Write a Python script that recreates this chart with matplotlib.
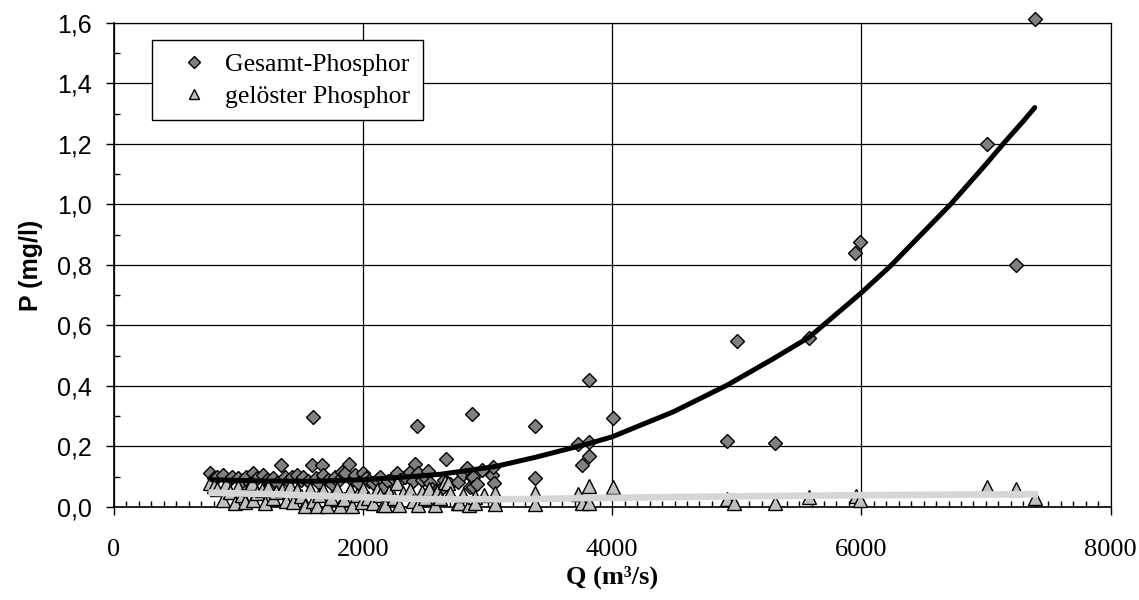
import matplotlib
matplotlib.use("Agg")
import matplotlib.pyplot as plt
from matplotlib.ticker import MultipleLocator, FuncFormatter

# Gesamt-Phosphor (Q in m3/s, P in mg/l)
tp_q = [770, 800, 830, 878, 920, 950, 998, 1030, 1060, 1090, 1119, 1150, 1199, 1230,
        1250, 1280, 1310, 1341, 1370, 1400, 1430, 1467, 1500, 1521, 1560, 1588, 1601,
        1620, 1650, 1673, 1681, 1720, 1750, 1775, 1800, 1829, 1855, 1890, 1910, 1936,
        1960, 1997, 2020, 2050, 2083, 2110, 2140, 2163, 2200, 2240, 2271, 2300, 2340,
        2377, 2400, 2418, 2436, 2445, 2470, 2500, 2519, 2538, 2551, 2592, 2618, 2650,
        2667, 2700, 2763, 2800, 2835, 2859, 2873, 2876, 2883, 2886, 2916, 2956, 3036,
        3044, 3052, 3381, 3381, 3727, 3759, 3815, 3815, 3815, 4008, 4924, 5000, 5309,
        5581, 5951, 5986, 7005, 7241, 7392]
tp_p = [0.111, 0.095, 0.100, 0.106, 0.090, 0.100, 0.095, 0.085, 0.100, 0.080, 0.111,
        0.095, 0.106, 0.090, 0.070, 0.095, 0.080, 0.139, 0.100, 0.085, 0.100, 0.106,
        0.090, 0.100, 0.085, 0.139, 0.296, 0.095, 0.080, 0.139, 0.106, 0.090, 0.075,
        0.100, 0.085, 0.117, 0.111, 0.142, 0.090, 0.106, 0.080, 0.111, 0.095, 0.085,
        0.078, 0.090, 0.100, 0.067, 0.085, 0.095, 0.111, 0.090, 0.100, 0.117, 0.085,
        0.142, 0.268, 0.111, 0.090, 0.100, 0.120, 0.078, 0.058, 0.056, 0.056, 0.090,
        0.159, 0.075, 0.083, 0.110, 0.129, 0.066, 0.100, 0.307, 0.099, 0.067, 0.076,
        0.122, 0.106, 0.132, 0.079, 0.268, 0.096, 0.208, 0.139, 0.420, 0.215, 0.169,
        0.294, 0.218, 0.550, 0.212, 0.558, 0.838, 0.877, 1.198, 0.800, 1.612]

# gelöster Phosphor
dp_q = [771, 800, 830, 878, 900, 930, 972, 1000, 1030, 1052, 1080, 1106, 1117, 1150,
        1186, 1213, 1240, 1277, 1300, 1347, 1380, 1410, 1440, 1467, 1500, 1534, 1575,
        1600, 1628, 1650, 1681, 1708, 1740, 1788, 1815, 1850, 1895, 1909, 1950, 1989,
        2003, 2040, 2083, 2110, 2140, 2163, 2177, 2210, 2250, 2271, 2286, 2320, 2377,
        2400, 2445, 2471, 2500, 2530, 2580, 2592, 2620, 2659, 2680, 2700, 2766, 2769,
        2800, 2850, 2898, 2900, 2971, 3060, 3060, 3381, 3381, 3727, 3759, 3815, 3815,
        4008, 4924, 4980, 5309, 5581, 5959, 5986, 7005, 7241, 7392]
dp_p = [0.078, 0.070, 0.060, 0.023, 0.075, 0.050, 0.012, 0.065, 0.040, 0.018, 0.060,
        0.078, 0.023, 0.045, 0.056, 0.012, 0.065, 0.029, 0.050, 0.056, 0.020, 0.070,
        0.018, 0.056, 0.035, 0.003, 0.058, 0.020, 0.003, 0.040, 0.056, 0.002, 0.030,
        0.058, 0.004, 0.025, 0.056, 0.002, 0.040, 0.018, 0.058, 0.030, 0.012, 0.056,
        0.040, 0.007, 0.007, 0.050, 0.030, 0.078, 0.007, 0.045, 0.056, 0.020, 0.007,
        0.051, 0.030, 0.060, 0.007, 0.051, 0.030, 0.084, 0.079, 0.045, 0.012, 0.013,
        0.040, 0.007, 0.033, 0.012, 0.040, 0.046, 0.010, 0.046, 0.010, 0.043, 0.013,
        0.069, 0.013, 0.066, 0.026, 0.013, 0.013, 0.033, 0.035, 0.024, 0.065, 0.061,
        0.030]

# Trendlinien
trend_tp_q = [785, 1200, 1600, 2000, 2300, 2618, 3052, 3381, 3815, 4000, 4493, 4924,
              5293, 5581, 6000, 6230, 6716, 7005, 7149, 7300, 7392]
trend_tp_p = [0.090, 0.086, 0.085, 0.090, 0.098, 0.108, 0.133, 0.164, 0.210, 0.232,
              0.315, 0.403, 0.490, 0.561, 0.708, 0.795, 1.000, 1.135, 1.205, 1.275, 1.320]
trend_dp_q = [785, 1300, 1800, 2300, 2700, 3300, 3900, 4500, 5200, 6000, 6800, 7392]
trend_dp_p = [0.047, 0.042, 0.035, 0.028, 0.025, 0.026, 0.030, 0.033, 0.036, 0.039,
              0.041, 0.042]

fig = plt.figure(figsize=(11.39, 6.0), dpi=100)
ax = fig.add_axes([0.100, 0.155, 0.875, 0.807])

ax.grid(True, which="major", color="black", linewidth=0.9)
ax.set_axisbelow(True)

ax.plot(tp_q, tp_p, "D", ms=7.5, mfc="#808080", mec="black", mew=1.0,
        label="Gesamt-Phosphor", zorder=3, clip_on=False)
ax.plot(dp_q, dp_p, "^", ms=9.5, mfc="#c0c0c0", mec="black", mew=1.0,
        label="gelöster Phosphor", zorder=3, clip_on=False)
ax.plot(trend_tp_q, trend_tp_p, color="black", lw=3.6, solid_capstyle="round",
        solid_joinstyle="round", zorder=4)
ax.plot(trend_dp_q, trend_dp_p, color="#d6d6d6", lw=4.8, zorder=4)

ax.set_xlim(0, 8000)
ax.set_ylim(0, 1.6)
ax.xaxis.set_major_locator(MultipleLocator(2000))
ax.xaxis.set_minor_locator(MultipleLocator(100))
ax.yaxis.set_major_locator(MultipleLocator(0.2))
ax.yaxis.set_minor_locator(MultipleLocator(0.1))
ax.yaxis.set_major_formatter(FuncFormatter(lambda v, p: f"{v:.1f}".replace(".", ",")))

ax.tick_params(axis="both", which="major", direction="out", length=6, width=1)
ax.tick_params(axis="both", which="minor", direction="in", length=4.5, width=1)
ax.tick_params(axis="y", which="major", pad=10)
ax.tick_params(axis="x", which="major", pad=17)

for lab in ax.get_yticklabels():
    lab.set_fontfamily("Liberation Sans")
    lab.set_fontsize(18)
for lab in ax.get_xticklabels():
    lab.set_fontfamily("Liberation Serif")
    lab.set_fontsize(19)

for s in ["top", "right"]:
    ax.spines[s].set_linewidth(0.9)
for s in ["left", "bottom"]:
    ax.spines[s].set_linewidth(1.2)

ax.set_ylabel("P (mg/l)", fontfamily="Liberation Sans", fontweight="bold",
              fontsize=18, labelpad=10)
ax.set_xlabel("Q (m³/s)", fontfamily="Liberation Serif", fontweight="bold",
              fontsize=19, labelpad=3)

leg = ax.legend(loc="upper left", bbox_to_anchor=(0.038, 0.965), borderaxespad=0,
                frameon=True, fancybox=False, shadow=False, handletextpad=0.05,
                handlelength=2.3, borderpad=0.5, labelspacing=0.35,
                prop={"family": "Liberation Serif", "size": 18.5})
leg.get_frame().set_edgecolor("black")
leg.get_frame().set_linewidth(1.0)
leg.get_frame().set_alpha(1.0)
for h in leg.legend_handles:
    h.set_markersize(6.5)

fig.savefig("out.png", dpi=100)
